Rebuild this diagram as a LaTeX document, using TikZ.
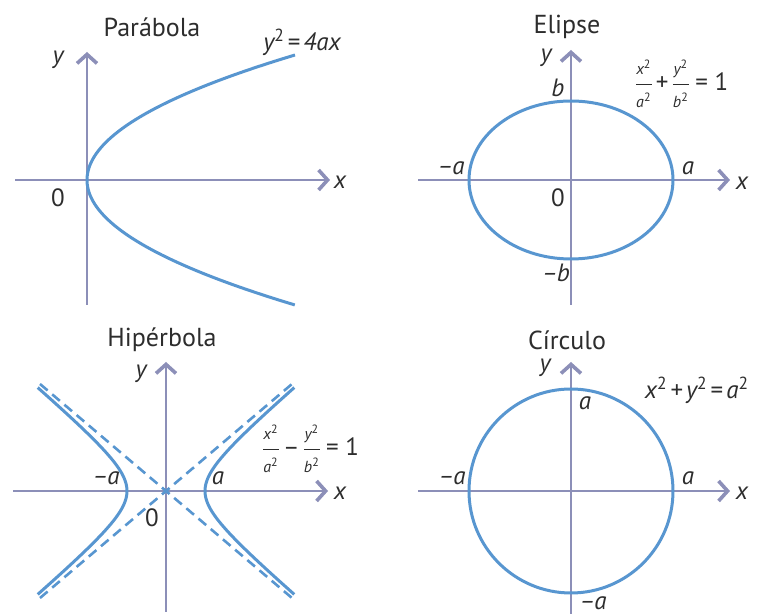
\documentclass[tikz,border=0pt]{standalone}
\usepackage{fontspec}
\setmainfont{PT Sans}
\usepackage{tikz}
\usetikzlibrary{arrows.meta}

\definecolor{curveblue}{RGB}{88,150,208}
\definecolor{axisgray}{RGB}{140,143,184}
\definecolor{textgray}{RGB}{45,45,45}

\newcommand{\sq}[1]{#1\textsuperscript{\upshape 2}}
\newcommand{\fr}[2]{$\displaystyle\frac{\mbox{\footnotesize\itshape\sq{#1}}}{\mbox{\footnotesize\itshape\sq{#2}}}$}
\newcommand{\mn}{–\kern-0.5pt}

\tikzset{
  axis/.style={draw=axisgray, line width=1.2pt, -{Straight Barb[length=4.5pt,width=10pt,line width=1.8pt]}},
  curve/.style={draw=curveblue, line width=1.5pt},
  asym/.style={draw=curveblue, line width=1.3pt, dash pattern=on 5pt off 3pt},
  title/.style={text=textgray, font=\fontsize{13}{15}\selectfont},
  lbl/.style={text=textgray, font=\fontsize{12.5}{14}\selectfont\itshape, inner sep=1pt},
  eqn/.style={text=textgray, font=\fontsize{12.5}{14}\selectfont\itshape, inner sep=1pt}
}

\begin{document}
\begin{tikzpicture}[x=0.5pt, y=-0.5pt]
\useasboundingbox (0,0) rectangle (761,614);

% Parabola
\node[title] (ptitle) at (152,27) {Parábola};
\coordinate (pyb) at (87,305); \coordinate (pyt) at (87,52);
\coordinate (pxl) at (15,180); \coordinate (pxr) at (330,180);
\draw[axis] (pxl) -- (pxr);
\draw[axis] (pyb) -- (pyt);
\draw[curve] plot[domain=-1:1, samples=61, smooth] ({87+208*\x*\x},{180+125*\x});
\node[lbl] (py) at (58,60) {y};
\node[lbl] (px) at (340,182) {x};
\node[lbl] (p0) at (58,198) {\upshape 0};
\node[eqn] (peq) at (302,42) {\sq{y}\kern1.5pt{\upshape =}\kern1.5pt4ax};

% Ellipse
\node[title] (etitle) at (567,27) {Elipse};
\coordinate (eyb) at (571,305); \coordinate (eyt) at (571,50);
\coordinate (exl) at (418,180); \coordinate (exr) at (730,180);
\draw[axis] (exl) -- (exr);
\draw[axis] (eyb) -- (eyt);
\coordinate (eo) at (571,180);
\draw[curve] (eo) ellipse [x radius=102, y radius=79];
\node[lbl] (ey) at (546,58) {y};
\node[lbl] (ex) at (742,183) {x};
\node[lbl] (eb) at (558,88) {b};
\node[lbl] (ena) at (451,168) {\mn a};
\node[lbl] (ea) at (688,168) {a};
\node[lbl] (e0) at (558,198) {\upshape 0};
\node[lbl] (enb) at (556,273) {\mn b};
\node[eqn] (eeq) at (681,84) {\fr{x}{a}\kern1pt{\upshape +}\kern1pt\fr{y}{b}\kern2pt{\upshape = 1}};

% Hyperbola
\node[title] (htitle) at (162,340) {Hipérbola};
\coordinate (hyb) at (166,612); \coordinate (hyt) at (166,362);
\coordinate (hxl) at (13,491); \coordinate (hxr) at (328,491);
\draw[axis] (hxl) -- (hxr);
\draw[axis] (hyb) -- (hyt);
\coordinate (ha1) at (40,598); \coordinate (ha2) at (292,384);
\coordinate (ha3) at (40,384); \coordinate (ha4) at (292,598);
\draw[asym] (ha1) -- (ha2);
\draw[asym] (ha3) -- (ha4);
\draw[curve] plot[domain=-1.86:1.86, samples=61, smooth] ({166+39*cosh(\x)},{491+33*sinh(\x)});
\draw[curve] plot[domain=-1.86:1.86, samples=61, smooth] ({166-39*cosh(\x)},{491+33*sinh(\x)});
\node[lbl] (hy) at (141,374) {y};
\node[lbl] (hx) at (340,493) {x};
\node[lbl] (hna) at (106,478) {\mn a};
\node[lbl] (ha) at (218,478) {a};
\node[lbl] (h0) at (152,518) {\upshape 0};
\node[eqn] (heq) at (310,449) {\fr{x}{a}\kern1pt{\upshape –}\kern1pt\fr{y}{b}\kern2pt{\upshape = 1}};

% Circle
\node[title] (ctitle) at (567,340) {Círculo};
\coordinate (cyb) at (571,614); \coordinate (cyt) at (571,362);
\coordinate (cxl) at (418,491); \coordinate (cxr) at (730,491);
\draw[axis] (cxl) -- (cxr);
\draw[axis] (cyb) -- (cyt);
\coordinate (co) at (571,491);
\draw[curve] (co) circle [radius=102];
\node[lbl] (cy) at (545,368) {y};
\node[lbl] (cx) at (742,493) {x};
\node[lbl] (cat) at (585,403) {a};
\node[lbl] (cna) at (452,478) {\mn a};
\node[lbl] (ca) at (688,478) {a};
\node[lbl] (cnb) at (593,603) {\mn a};
\node[eqn] (ceq) at (697,390) {\sq{x}\kern1.5pt{\upshape +}\kern1.5pt\sq{y}\kern1.5pt{\upshape =}\kern1.5pt\sq{a}};

\end{tikzpicture}
\end{document}
